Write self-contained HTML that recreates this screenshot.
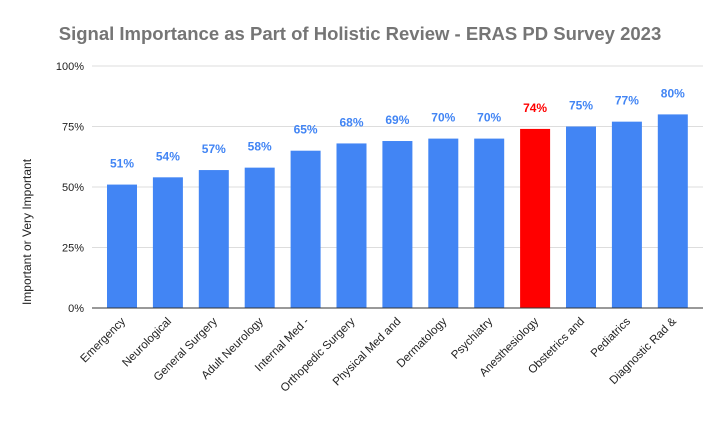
<!DOCTYPE html>
<html><head><meta charset="utf-8"><style>body{margin:0;background:#fff}svg{display:block;font-family:"Liberation Sans",Arial,sans-serif}</style></head>
<body>
<svg id="c" width="721" height="421">
<text x="360" y="40" text-anchor="middle" font-size="18.5" font-weight="bold" fill="#757575">Signal Importance as Part of Holistic Review -  ERAS PD Survey 2023</text>
<text transform="translate(31,232) rotate(-90)" text-anchor="middle" font-size="12" fill="#222">Important or Very Important</text>
<g id="grid"></g><g id="bars"></g><g id="labels"></g>
</svg>
<script>
const categories=["Emergency","Neurological","General Surgery","Adult Neurology","Internal Med -","Orthopedic Surgery","Physical Med and","Dermatology","Psychiatry","Anesthesiology","Obstetrics and","Pediatrics","Diagnostic Rad &"];
const values=[51,54,57,58,65,68,69,70,70,74,75,77,80];
const highlight=[false,false,false,false,false,false,false,false,false,true,false,false,false];
const yTicks=[0,25,50,75,100];
const yTickLabels=["0%","25%","50%","75%","100%"];
const NS="http://www.w3.org/2000/svg";
const y0=308,y1=66,x0=92,x1=703,c0=122,step=45.9,bw=30;
const y=v=>y0-(v/100)*(y0-y1);
const x=i=>c0+i*step;
function mk(t,a,p){const e=document.createElementNS(NS,t);for(const k in a)e.setAttribute(k,a[k]);p.appendChild(e);return e;}
const g=document.getElementById('grid'),b=document.getElementById('bars'),l=document.getElementById('labels');
yTicks.forEach((t,i)=>{
 const ln=mk('line',{x1:x0,x2:x1,y1:y(t),y2:y(t),stroke:t===0?'#333':'#ddd','stroke-width':1},g);
 
 
 const tx=mk('text',{x:84,y:y(t)+4,'text-anchor':'end','font-size':11,fill:'#222'},g);
 tx.textContent=yTickLabels[i];
 
 
});
values.forEach((v,i)=>{
 const col=highlight[i]?'#ff0000':'#4285f4';
 const r=mk('rect',{x:x(i)-bw/2,y:y(v),width:bw,height:y0-y(v),fill:col},b);
 
 
 const t=mk('text',{x:x(i),y:y(v)-17,'text-anchor':'middle','font-size':12,'font-weight':'bold',fill:highlight[i]?'#ff0000':'#4285f4'},l);
 t.textContent=v+'%';
 
 
 const c=mk('text',{transform:`translate(${x(i)+4},${y0+14}) rotate(-45)`,'text-anchor':'end','font-size':11.5,fill:'#222'},l);
 c.textContent=categories[i];
 
 
});
mk('line',{x1:x0,x2:x1,y1:y0,y2:y0,stroke:'#333','stroke-width':1},l);
</script>
</body></html>
